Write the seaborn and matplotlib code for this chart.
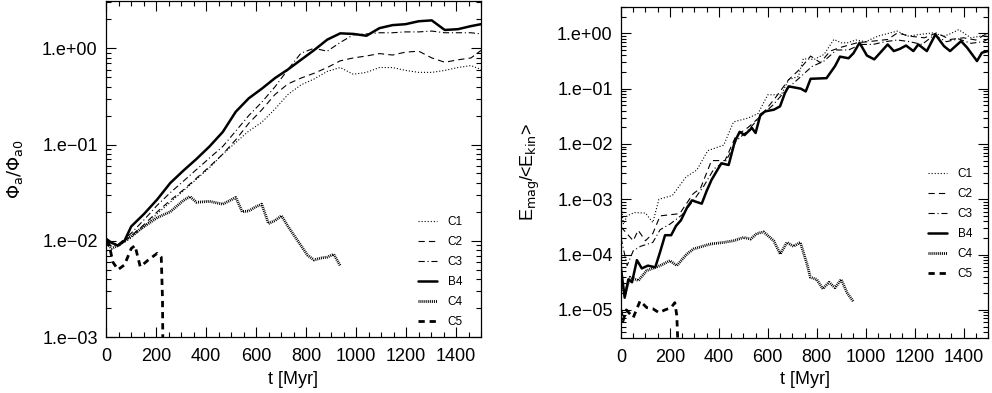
import numpy as np
import matplotlib
matplotlib.use("Agg")
import matplotlib.pyplot as plt
import seaborn as sns
from matplotlib.ticker import MultipleLocator, LogLocator, FuncFormatter, NullFormatter

# ---------------- data: left panel (Phi_a / Phi_a0) ----------------
t_left_b4 = [0, 22, 48, 74, 101, 153, 205, 257, 310, 362, 414, 467, 519, 571, 623, 676,
             728, 780, 832, 885, 937, 989, 1042, 1094, 1146, 1198, 1251, 1303, 1355,
             1408, 1460, 1500]
phi_b4 = [0.0105, 0.00955, 0.00891, 0.0100, 0.0141, 0.0191, 0.0269, 0.0398, 0.0537,
          0.0708, 0.0955, 0.135, 0.219, 0.302, 0.380, 0.490, 0.603, 0.759, 0.955, 1.23,
          1.43, 1.41, 1.35, 1.62, 1.74, 1.78, 1.91, 1.95, 1.55, 1.58, 1.70, 1.78]

t_left = [0, 48, 101, 153, 205, 257, 310, 362, 414, 467, 519, 571, 623, 676, 728, 780,
          832, 885, 937, 989, 1042, 1094, 1146, 1198, 1251, 1303, 1355, 1408, 1460, 1500]
phi_c1 = [0.0100, 0.00871, 0.0107, 0.0141, 0.0191, 0.0251, 0.0331, 0.0437, 0.0575,
          0.0794, 0.105, 0.138, 0.170, 0.234, 0.331, 0.417, 0.479, 0.575, 0.631, 0.537,
          0.562, 0.631, 0.631, 0.589, 0.562, 0.562, 0.589, 0.631, 0.661, 0.603]
phi_c2 = [0.0100, 0.00891, 0.0112, 0.0148, 0.0200, 0.0263, 0.0339, 0.0447, 0.0589,
          0.0794, 0.112, 0.166, 0.229, 0.331, 0.427, 0.490, 0.550, 0.631, 0.741, 0.794,
          0.832, 0.881, 0.851, 0.912, 0.933, 0.794, 0.716, 0.759, 0.794, 0.950]
phi_c3 = [0.0100, 0.00912, 0.0120, 0.0166, 0.0234, 0.0316, 0.0417, 0.0550, 0.0724,
          0.0955, 0.138, 0.200, 0.275, 0.398, 0.603, 0.891, 1.00, 0.933, 1.15, 1.38,
          1.41, 1.45, 1.45, 1.48, 1.48, 1.51, 1.45, 1.45, 1.45, 1.41]

t_left_c4 = [0, 22, 48, 74, 101, 127, 153, 205, 257, 310, 336, 362, 414, 467, 519, 545,
             571, 597, 623, 650, 676, 702, 728, 754, 780, 806, 832, 859, 885, 911, 937]
phi_c4 = [0.00955, 0.00832, 0.00891, 0.0100, 0.0112, 0.0126, 0.0141, 0.0174, 0.0200,
          0.0263, 0.0288, 0.0251, 0.0257, 0.0240, 0.0282, 0.0200, 0.0204, 0.0224, 0.0240,
          0.0151, 0.0162, 0.0182, 0.0141, 0.0112, 0.00891, 0.00708, 0.00631, 0.00661,
          0.00676, 0.00724, 0.0055]

t_left_c5 = [0, 12, 27, 48, 74, 101, 116, 137, 169, 205, 221, 226, 230]
phi_c5 = [0.0100, 0.00933, 0.00603, 0.00501, 0.00562, 0.00832, 0.00891, 0.00537,
          0.00631, 0.00741, 0.00676, 0.0025, 0.0001]

# ---------------- data: right panel (E_mag / <E_kin>) ----------------
t_r_b4 = [0, 15, 30, 45, 65, 85, 110, 140, 160, 180, 205, 225, 245, 270, 290, 330, 350,
          370, 410, 440, 465, 485, 505, 535, 550, 570, 590, 625, 650, 670, 685, 710, 735,
          755, 775, 840, 875, 895, 930, 950, 975, 1005, 1035, 1090, 1115, 1140, 1165,
          1195, 1215, 1250, 1285, 1320, 1345, 1390, 1415, 1455, 1475, 1500]
em_b4 = [5.62e-5, 1.66e-5, 3.55e-5, 3.16e-5, 7.94e-5, 5.62e-5, 6.31e-5, 5.89e-5, 1.12e-4,
         2.24e-4, 2.24e-4, 3.31e-4, 4.17e-4, 7.08e-4, 9.55e-4, 8.32e-4, 1.41e-3, 2.24e-3,
         4.47e-3, 4.17e-3, 1.10e-2, 1.66e-2, 1.45e-2, 1.95e-2, 1.58e-2, 3.39e-2, 3.89e-2,
         4.17e-2, 4.79e-2, 8.32e-2, 0.110, 0.105, 0.100, 0.0891, 0.151, 0.155, 0.257,
         0.380, 0.355, 0.437, 0.676, 0.398, 0.339, 0.631, 0.479, 0.525, 0.603, 0.479,
         0.631, 0.479, 0.955, 0.589, 0.479, 0.724, 0.550, 0.316, 0.447, 0.479]

t_r_c1 = [0, 10, 25, 55, 100, 130, 155, 210, 240, 265, 310, 355, 420, 460, 520, 560, 600,
          655, 685, 725, 745, 790, 830, 870, 900, 925, 960, 1000, 1050, 1100, 1130, 1170,
          1220, 1275, 1320, 1350, 1380, 1430, 1470, 1500]
em_c1 = [7.94e-4, 3.55e-4, 5.01e-4, 5.75e-4, 5.62e-4, 3.80e-4, 1.00e-3, 1.17e-3, 1.78e-3,
         2.51e-3, 3.39e-3, 7.59e-3, 9.55e-3, 2.51e-2, 2.95e-2, 3.55e-2, 7.76e-2, 7.76e-2,
         0.145, 0.166, 0.347, 0.339, 0.417, 0.776, 0.676, 0.676, 0.759, 0.708, 0.891,
         1.02, 1.10, 0.891, 0.955, 1.02, 0.891, 1.00, 1.17, 0.832, 0.891, 0.955]

t_r_c2 = [0, 20, 50, 70, 100, 130, 160, 200, 240, 295, 325, 370, 425, 470, 520, 570, 630,
          685, 730, 775, 815, 855, 900, 965, 1030, 1090, 1130, 1180, 1240, 1290, 1345,
          1400, 1450, 1500]
em_c2 = [3.16e-4, 2.51e-4, 1.78e-4, 2.75e-4, 1.78e-4, 2.40e-4, 5.01e-4, 5.25e-4, 5.50e-4,
         1.26e-3, 1.58e-3, 5.01e-3, 5.01e-3, 1.41e-2, 2.00e-2, 3.16e-2, 6.76e-2, 0.145,
         0.224, 0.389, 0.295, 0.479, 0.562, 0.676, 0.724, 0.776, 1.02, 0.891, 0.832,
         1.02, 0.776, 0.832, 0.759, 1.02]

t_r_c3 = [0, 25, 50, 80, 130, 160, 200, 250, 300, 340, 380, 430, 470, 520, 570, 620, 680,
          730, 780, 830, 880, 930, 980, 1030, 1080, 1130, 1180, 1230, 1280, 1330, 1380,
          1430, 1480, 1500]
em_c3 = [2.00e-4, 6.31e-5, 1.17e-4, 1.41e-4, 1.66e-4, 2.82e-4, 3.55e-4, 5.25e-4, 1.00e-3,
         1.78e-3, 3.55e-3, 5.01e-3, 1.12e-2, 1.78e-2, 3.16e-2, 5.01e-2, 0.100, 0.158,
         0.251, 0.316, 0.501, 0.501, 0.631, 0.631, 0.708, 0.759, 0.708, 0.631, 0.933,
         0.708, 0.794, 0.661, 0.708, 0.794]

t_r_c4 = [0, 16, 37, 71, 105, 160, 200, 228, 269, 296, 364, 420, 460, 501, 530, 555, 583,
          624, 651, 678, 705, 733, 760, 774, 800, 825, 850, 875, 900, 925, 950]
em_c4 = [3.16e-5, 1.95e-5, 3.89e-5, 3.39e-5, 5.13e-5, 6.31e-5, 7.76e-5, 6.31e-5, 1.02e-4,
         1.26e-4, 1.55e-4, 1.66e-4, 1.78e-4, 2.04e-4, 1.91e-4, 2.40e-4, 2.57e-4, 1.78e-4,
         1.02e-4, 1.66e-4, 1.41e-4, 1.66e-4, 6.76e-5, 3.89e-5, 3.55e-5, 2.40e-5, 3.16e-5,
         2.51e-5, 3.55e-5, 2.00e-5, 1.41e-5]

t_r_c5 = [0, 8, 22, 50, 78, 105, 130, 155, 180, 205, 220, 228, 236]
em_c5 = [1.00e-5, 6.31e-6, 1.00e-5, 7.24e-6, 1.45e-5, 1.10e-5, 1.05e-5, 8.91e-6, 1.00e-5,
         1.10e-5, 1.35e-5, 7.94e-6, 1.00e-6]

labels = ["C1", "C2", "C3", "B4", "C4", "C5"]
x_ticks = [0, 200, 400, 600, 800, 1000, 1200, 1400]

# ---------------- style ----------------
sns.set_style("ticks")
plt.rcParams['font.family'] = ['Liberation Sans', 'DejaVu Sans']
plt.rcParams['mathtext.fontset'] = 'dejavusans'
plt.rcParams['lines.scale_dashes'] = False
plt.rcParams['axes.edgecolor'] = 'black'
plt.rcParams['axes.linewidth'] = 0.9
plt.rcParams['text.color'] = 'black'
plt.rcParams['axes.labelcolor'] = 'black'
plt.rcParams['xtick.color'] = 'black'
plt.rcParams['ytick.color'] = 'black'

styles = {
    "C1": dict(linewidth=0.8, linestyle=(0, (0.8, 1.4))),
    "C2": dict(linewidth=0.8, linestyle=(0, (4.5, 3.0))),
    "C3": dict(linewidth=0.8, linestyle=(0, (4.5, 2.0, 0.8, 2.0))),
    "B4": dict(linewidth=1.8, linestyle="-"),
    "C4": dict(linewidth=2.0, linestyle=(0, (0.7, 0.7))),
    "C5": dict(linewidth=2.0, linestyle=(0, (4.5, 3.5))),
}

W, H = 992, 393
fig = plt.figure(figsize=(W / 100, H / 100), dpi=100)


def px_axes(l, r, t, b):
    return fig.add_axes([l / W, (H - b) / H, (r - l) / W, (b - t) / H])


axL = px_axes(106, 481, 1, 337)
axR = px_axes(621, 988, 7, 338)

left_series = {
    "C1": (t_left, phi_c1), "C2": (t_left, phi_c2), "C3": (t_left, phi_c3),
    "B4": (t_left_b4, phi_b4), "C4": (t_left_c4, phi_c4), "C5": (t_left_c5, phi_c5),
}
right_series = {
    "C1": (t_r_c1, em_c1), "C2": (t_r_c2, em_c2), "C3": (t_r_c3, em_c3),
    "B4": (t_r_b4, em_b4), "C4": (t_r_c4, em_c4), "C5": (t_r_c5, em_c5),
}


def fmt(v, pos):
    e = int(round(np.log10(v)))
    return f"1.e{e:+03d}".replace("-", "\u2212")


def draw(ax, series, ylim, legend_anchor):
    for lab in labels:
        t, v = series[lab]
        sns.lineplot(x=t, y=v, ax=ax, color="black", label=lab, errorbar=None,
                     estimator=None, sort=False, **styles[lab])
    ax.set_yscale("log")
    ax.set_xlim(0, 1500)
    ax.set_ylim(*ylim)
    ax.set_xticks(x_ticks)
    ax.xaxis.set_minor_locator(MultipleLocator(50))
    ax.yaxis.set_major_locator(LogLocator(base=10, numticks=20))
    ax.yaxis.set_minor_locator(LogLocator(base=10, subs=np.arange(2, 10), numticks=20))
    ax.yaxis.set_major_formatter(FuncFormatter(fmt))
    ax.yaxis.set_minor_formatter(NullFormatter())
    ax.tick_params(which="both", direction="in", top=True, right=True,
                   labelsize=13, width=0.8, color="black", labelcolor="black")
    ax.tick_params(which="major", length=7, pad=6)
    ax.tick_params(which="minor", length=3.5)
    ax.tick_params(axis="x", which="major", pad=8)
    ax.set_xlabel("t [Myr]", fontsize=13)
    ax.legend(loc="upper left", bbox_to_anchor=legend_anchor, frameon=False,
              fontsize=8.5, handlelength=1.65, handletextpad=0.85, labelspacing=0.68,
              borderpad=0, borderaxespad=0)


draw(axL, left_series, (1e-3, 3.1), (0.832, 0.36))
draw(axR, right_series, (3.1e-6, 3.0), (0.8365, 0.514))

axL.set_ylabel(r"$\Phi_{\rm a}/\Phi_{\rm a0}$", fontsize=13)
axR.set_ylabel(r"E$_{\rm mag}$/<E$_{\rm kin}$>", fontsize=13)
axL.yaxis.set_label_coords(-0.215, 0.5)
axR.yaxis.set_label_coords(-0.215, 0.5)
axL.xaxis.set_label_coords(0.5, -0.1)
axR.xaxis.set_label_coords(0.5, -0.1)

fig.savefig("out.png", dpi=100)
